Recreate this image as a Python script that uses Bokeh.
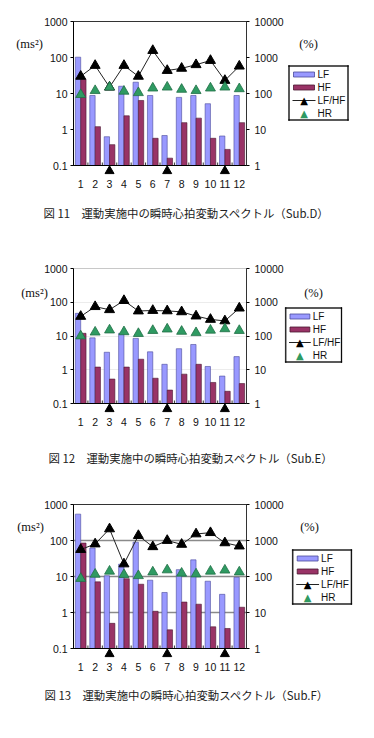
import numpy as np
from bokeh.plotting import figure
from bokeh.models import Range1d, LogScale, LogAxis, FixedTicker
from bokeh.layouts import column
from bokeh.embed import file_html
from bokeh.resources import INLINE
from bokeh.core.properties import value

# ---------------- data ----------------
cats = [1, 2, 3, 4, 5, 6, 7, 8, 9, 10, 11, 12]
x_labels = ["1", "2", "3", "4", "5", "6", "7", "8", "9", "10", "11", "12"]
event_points = [3, 7, 11]

left_ticks = [0.1, 1, 10, 100, 1000]
left_tick_labels = ["0.1", "1", "10", "100", "1000"]
right_ticks = [1, 10, 100, 1000, 10000]
right_tick_labels = ["1", "10", "100", "1000", "10000"]

# Sub.D
lf_d = [102, 8.8, 0.63, 15.9, 20.6, 8.8, 0.68, 7.8, 8.8, 5.2, 0.66, 8.8]
hf_d = [25, 1.2, 0.38, 2.4, 6.4, 0.57, 0.16, 1.55, 2.07, 0.57, 0.28, 1.55]
lfhf_d = [300, 600, 150, 600, 300, 1560, 435, 500, 630, 825, 230, 575]
hr_d = [93, 120, 150, 115, 105, 141, 150, 130, 120, 141, 150, 135]

# Sub.E
lf_e = [47, 8.8, 3.3, 12, 8.5, 3.4, 1.45, 4.2, 5.6, 1.25, 0.65, 2.45]
hf_e = [12, 1.2, 0.53, 1.2, 2.05, 0.56, 0.25, 0.74, 1.45, 0.42, 0.23, 0.39]
lfhf_e = [380, 740, 600, 1120, 550, 570, 555, 520, 390, 310, 280, 670]
hr_e = [100, 130, 150, 133, 118, 145, 160, 137, 125, 148, 163, 145]

# Sub.F
lf_f = [540, 62, 10.5, 22, 90, 7.9, 3.6, 15.5, 29, 7.4, 3.2, 9.5]
hf_f = [85, 7.1, 0.5, 8.7, 6.1, 1.08, 0.33, 1.95, 1.7, 0.4, 0.36, 1.4]
lfhf_f = [560, 800, 2100, 223, 1370, 670, 1000, 780, 1520, 1650, 860, 700]
hr_f = [88, 115, 140, 113, 105, 133, 152, 123, 117, 140, 150, 133]

captions = [
    "図 11　運動実施中の瞬時心拍変動スペクトル（Sub.D）",
    "図 12　運動実施中の瞬時心拍変動スペクトル（Sub.E）",
    "図 13　運動実施中の瞬時心拍変動スペクトル（Sub.F）",
]
y_unit_label = "(ms²)"
y2_unit_label = "(%)"
legend_labels = ["LF", "HF", "LF/HF", "HR"]
legend_marker = "▲"

LF_COLOR = "#9999ff"
LF_EDGE = "#4a4a9a"
HF_COLOR = "#993366"
HF_EDGE = "#4a1830"
HR_COLOR = "#2f9a62"
HR_EDGE = "#1f6f45"
TICK_FONT = "Liberation Sans"
TOTAL_W = 374


def make_chart(lf, hf, lfhf, hr, caption, geom, style):
    bl, fw, bt, fh, bb = geom["bl"], geom["fw"], geom["bt"], geom["fh"], geom["bb"]
    ymin, ymax = left_ticks[0], left_ticks[-1]
    xmin, xmax = cats[0] - 0.5, cats[-1] + 0.5
    ppd = fh / (np.log10(ymax) - np.log10(ymin))

    def X(dx):  # pixel offset from frame left -> data x
        return float(xmin + dx * (xmax - xmin) / fw)

    def Y(dy):  # pixel offset up from frame bottom -> data y
        return float(ymin * 10 ** (dy / ppd))

    p = figure(width=TOTAL_W, height=bt + fh + bb,
               min_border_left=bl, min_border_right=TOTAL_W - bl - fw,
               min_border_top=bt, min_border_bottom=bb,
               x_range=Range1d(xmin, xmax), y_range=Range1d(ymin, ymax),
               y_axis_type="log", output_backend="svg", toolbar_location=None)
    p.background_fill_color = "white"
    p.border_fill_color = "white"
    p.outline_line_color = style["outline"]
    p.outline_line_width = 1

    p.extra_y_ranges = {"pct": Range1d(right_ticks[0], right_ticks[-1])}
    p.extra_y_scales = {"pct": LogScale()}

    # grids
    p.xgrid.grid_line_color = None
    p.ygrid.ticker = FixedTicker(ticks=left_ticks[1:-1])
    if style["grid"] is None:
        p.ygrid.grid_line_color = None
    else:
        p.ygrid.grid_line_color = style["grid"]
        p.ygrid.grid_line_width = style["grid_w"]

    # left axis
    ya = p.yaxis[0]
    ya.ticker = FixedTicker(ticks=left_ticks)
    ya.major_label_overrides = dict(zip(left_ticks, left_tick_labels))
    ya.minor_tick_line_color = None
    ya.major_tick_out = 3
    ya.major_tick_in = 0
    ya.major_label_standoff = 3
    ya.axis_line_color = "black"
    ya.major_label_text_font = TICK_FONT
    ya.major_label_text_font_size = "10.5px"
    ya.major_label_text_color = "#111111"

    # right axis
    ra = LogAxis(y_range_name="pct", ticker=FixedTicker(ticks=right_ticks))
    ra.major_label_overrides = dict(zip(right_ticks, right_tick_labels))
    ra.minor_tick_line_color = None
    ra.major_tick_out = 3
    ra.major_tick_in = 0
    ra.major_label_standoff = 5
    ra.axis_line_color = "#333333"
    ra.major_label_text_font = TICK_FONT
    ra.major_label_text_font_size = "10.5px"
    ra.major_label_text_color = "#111111"
    p.add_layout(ra, "right")

    # x axis
    xa = p.xaxis[0]
    xa.ticker = FixedTicker(ticks=cats)
    xa.major_label_overrides = dict(zip(cats, x_labels))
    xa.major_tick_line_color = None
    xa.minor_tick_line_color = None
    xa.major_label_standoff = 8
    xa.axis_line_color = "black"
    xa.major_label_text_font = TICK_FONT
    xa.major_label_text_font_size = "10.5px"
    xa.major_label_text_color = "#111111"

    x = np.array(cats, dtype=float)
    bw = 0.37
    p.vbar(x=x - bw / 2, top=lf, bottom=ymin, width=bw,
           fill_color=LF_COLOR, line_color=LF_EDGE, line_width=0.6)
    p.vbar(x=x + bw / 2, top=hf, bottom=ymin, width=bw,
           fill_color=HF_COLOR, line_color=HF_EDGE, line_width=0.6)

    # boundary tick marks on the category axis (inward)
    bounds = np.concatenate([[x[0] - 0.5], x + 0.5])
    p.segment(x0=bounds, x1=bounds, y0=ymin, y1=Y(3),
              line_color="#333333", line_width=1)

    p.line(x=x, y=lfhf, y_range_name="pct", line_color="#222222", line_width=1)
    p.scatter(x=x, y=lfhf, y_range_name="pct", marker="triangle",
              size=10, fill_color="black", line_color="black")
    p.scatter(x=x, y=hr, y_range_name="pct", marker="triangle",
              size=10, fill_color=HR_COLOR, line_color=HR_EDGE, line_width=0.8)

    # event markers just below the category axis
    p.scatter(x=event_points, y=[Y(-5.5)] * len(event_points),
              marker="triangle", size=9, fill_color="black",
              line_color="black", level="overlay")

    # ---- legend (drawn outside the frame, overlay level) ----
    lx, ly = geom["legend"]
    lw, lh = 60, 55
    cy = [ly + lh - 9 - 13 * i for i in range(4)]
    p.quad(left=[X(lx + 5)] * 2, right=[X(lx + 26)] * 2,
           bottom=[Y(cy[0] - 2.5), Y(cy[1] - 2.5)],
           top=[Y(cy[0] + 2.5), Y(cy[1] + 2.5)],
           fill_color=[LF_COLOR, HF_COLOR], line_color=[LF_EDGE, HF_EDGE],
           line_width=0.8, level="overlay")
    p.line(x=[X(lx + 4), X(lx + 27)], y=[Y(cy[2]), Y(cy[2])],
           line_color="#222222", line_width=1, level="overlay")
    p.text(x=[X(lx + 15.5)] * 2, y=[Y(cy[2]), Y(cy[3])],
           text=[legend_marker] * 2, text_color=["black", HR_COLOR],
           text_align=value("center"), text_baseline=value("middle"),
           text_font=value("DejaVu Sans"), text_font_size=value("10px"),
           level="overlay")
    p.text(x=[X(lx + 29)] * 4, y=[Y(c) for c in cy], text=legend_labels,
           text_align=value("left"), text_baseline=value("middle"),
           text_font=value(TICK_FONT), text_font_size=value("10px"),
           text_color="#111111", level="overlay")
    # legend border as four thin filled edges
    p.quad(left=[X(lx), X(lx), X(lx), X(lx + lw - 1)],
           right=[X(lx + lw), X(lx + lw), X(lx + 1), X(lx + lw)],
           bottom=[Y(ly), Y(ly + lh - 1), Y(ly), Y(ly)],
           top=[Y(ly + 1), Y(ly + lh), Y(ly + lh), Y(ly + lh)],
           fill_color=["black"] * 4, line_color=["black"] * 4,
           line_width=0.3, level="overlay")

    # unit labels (above the axes) and caption, as overlay text glyphs
    ms_dx, pct_dx, unit_dy = geom["units"]
    p.text(x=[xmin, xmin], y=[ymax, ymax], text=[y_unit_label, y2_unit_label],
           x_offset=[ms_dx, pct_dx], y_offset=unit_dy,
           text_align=value("center"), text_baseline=value("middle"),
           text_font=value("Liberation Serif"), text_font_size=value("12.5px"),
           text_color="#111111", level="overlay")
    cx, cyc = geom["caption"]
    p.text(x=[xmin], y=[ymin], text=[caption], x_offset=cx, y_offset=cyc,
           text_align=value("left"), text_baseline=value("middle"),
           text_font=value("Noto Sans CJK JP"), text_font_size=value("11.4px"),
           text_color="#222222", level="overlay")
    return p


geoms = [
    dict(bl=73, fw=173, bt=21, fh=144, bb=75, legend=(215, 45),
         units=(-44, 235, 22), caption=(-30, 47)),
    dict(bl=68, fw=183, bt=28, fh=135, bb=73, legend=(224, 41),
         units=(-39, 240, 24), caption=(-25, 54)),
    dict(bl=72, fw=174, bt=28, fh=144, bb=84, legend=(220, 44),
         units=(-43, 236, 22), caption=(-29, 46)),
]
styles = [
    dict(outline="#333333", grid=None, grid_w=1),
    dict(outline="#c8c8c8", grid="#ececec", grid_w=1),
    dict(outline="#333333", grid="#8a8a8a", grid_w=1.5),
]

p1 = make_chart(lf_d, hf_d, lfhf_d, hr_d, captions[0], geoms[0], styles[0])
p2 = make_chart(lf_e, hf_e, lfhf_e, hr_e, captions[1], geoms[1], styles[1])
p3 = make_chart(lf_f, hf_f, lfhf_f, hr_f, captions[2], geoms[2], styles[2])

layout = column(p1, p2, p3, spacing=0)
open("out.html", "w").write(file_html(layout, INLINE))
